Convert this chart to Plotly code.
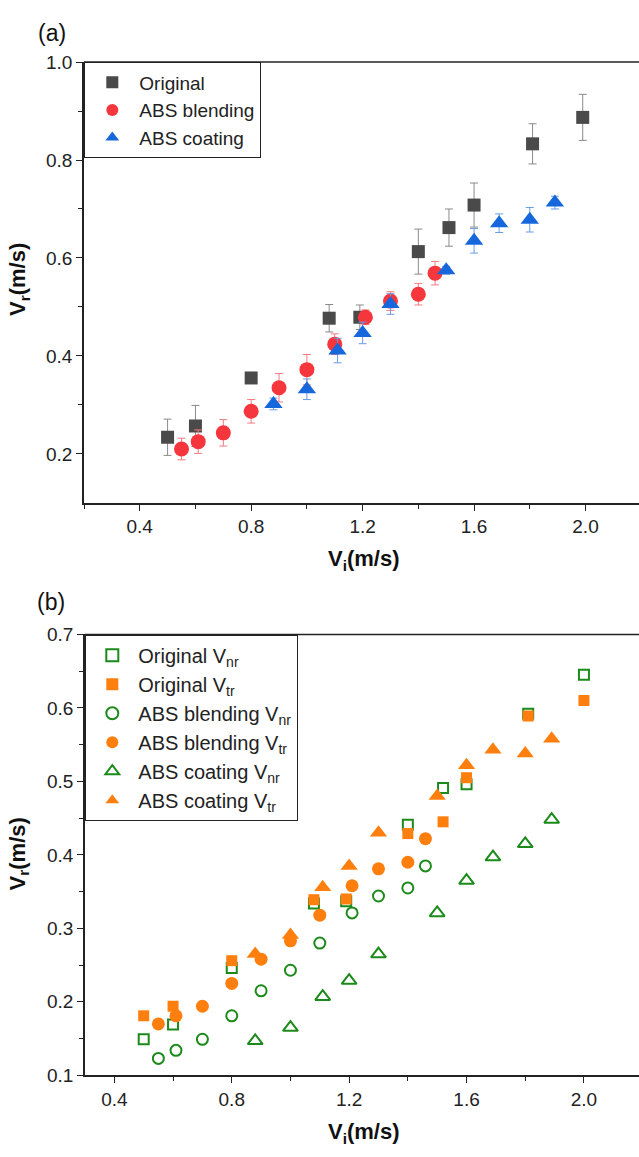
import plotly.graph_objects as go

# ---------------- Panel (a) data ----------------
orig_x = [0.50, 0.60, 0.80, 1.08, 1.19, 1.40, 1.51, 1.60, 1.81, 1.99]
orig_y = [0.234, 0.257, 0.355, 0.477, 0.479, 0.613, 0.662, 0.708, 0.833, 0.887]
orig_err = [0.037, 0.042, 0.007, 0.028, 0.025, 0.046, 0.038, 0.045, 0.041, 0.047]

blend_x = [0.55, 0.61, 0.70, 0.80, 0.90, 1.00, 1.10, 1.21, 1.30, 1.40, 1.46]
blend_y = [0.210, 0.225, 0.243, 0.287, 0.335, 0.372, 0.424, 0.479, 0.512, 0.526, 0.569]
blend_err = [0.022, 0.024, 0.027, 0.024, 0.029, 0.031, 0.021, 0.015, 0.019, 0.022, 0.024]

coat_x = [0.88, 1.00, 1.11, 1.20, 1.30, 1.50, 1.60, 1.69, 1.80, 1.89]
coat_y = [0.302, 0.332, 0.411, 0.447, 0.506, 0.575, 0.635, 0.671, 0.678, 0.713]
coat_err = [0.012, 0.021, 0.025, 0.022, 0.021, 0.008, 0.025, 0.019, 0.025, 0.013]

# ---------------- Panel (b) data ----------------
b_orig_x = [0.50, 0.60, 0.80, 1.08, 1.19, 1.40, 1.52, 1.60, 1.81, 2.00]
b_orig_nr = [0.149, 0.169, 0.246, 0.334, 0.337, 0.441, 0.491, 0.496, 0.592, 0.645]
b_orig_tr = [0.181, 0.194, 0.256, 0.339, 0.340, 0.429, 0.445, 0.505, 0.589, 0.610]

b_blend_x = [0.55, 0.61, 0.70, 0.80, 0.90, 1.00, 1.10, 1.21, 1.30, 1.40, 1.46]
b_blend_nr = [0.123, 0.134, 0.149, 0.181, 0.215, 0.243, 0.280, 0.321, 0.344, 0.355, 0.385]
b_blend_tr = [0.170, 0.181, 0.194, 0.225, 0.258, 0.283, 0.318, 0.358, 0.381, 0.390, 0.422]

b_coat_x = [0.88, 1.00, 1.11, 1.20, 1.30, 1.50, 1.60, 1.69, 1.80, 1.89]
b_coat_nr = [0.147, 0.165, 0.207, 0.229, 0.265, 0.321, 0.365, 0.397, 0.415, 0.448]
b_coat_tr = [0.265, 0.291, 0.356, 0.385, 0.430, 0.480, 0.522, 0.543, 0.538, 0.558]

W, H = 639, 1157
FONT = "Liberation Sans, Arial, sans-serif"
GRAY, GRAY_E = "#4a4a4a", "#8a8a8a"
RED, RED_E = "#f5363c", "#f77a7e"
BLUE, BLUE_E = "#1767dc", "#6a9ce8"
GREEN, ORANGE = "#1b8a1b", "#ff7f0e"

fig = go.Figure()

def err(arr, col):
    return dict(type="data", array=arr, visible=True, color=col, thickness=1, width=4)

fig.add_trace(go.Scatter(x=orig_x, y=orig_y, mode="markers", name="Original",
                         marker=dict(symbol="square", size=13, color=GRAY),
                         error_y=err(orig_err, GRAY_E), xaxis="x", yaxis="y", legend="legend"))
fig.add_trace(go.Scatter(x=blend_x, y=blend_y, mode="markers", name="ABS blending",
                         marker=dict(symbol="circle", size=15, color=RED),
                         error_y=err(blend_err, RED_E), xaxis="x", yaxis="y", legend="legend"))
fig.add_trace(go.Scatter(x=coat_x, y=coat_y, mode="markers", name="ABS coating",
                         marker=dict(symbol="triangle-up", size=16, color=BLUE),
                         error_y=err(coat_err, BLUE_E), xaxis="x", yaxis="y", legend="legend"))

def open_m(sym, size):
    return dict(symbol=sym + "-open", size=size, color=GREEN, line=dict(width=2, color=GREEN))

def fill_m(sym, size):
    return dict(symbol=sym, size=size, color=ORANGE)

bt = [
    (b_orig_x, b_orig_nr, "Original V<sub>nr</sub>", open_m("square", 10)),
    (b_orig_x, b_orig_tr, "Original V<sub>tr</sub>", fill_m("square", 11)),
    (b_blend_x, b_blend_nr, "ABS blending V<sub>nr</sub>", open_m("circle", 11)),
    (b_blend_x, b_blend_tr, "ABS blending V<sub>tr</sub>", fill_m("circle", 13)),
    (b_coat_x, b_coat_nr, "ABS coating V<sub>nr</sub>", open_m("triangle-up", 13)),
    (b_coat_x, b_coat_tr, "ABS coating V<sub>tr</sub>", fill_m("triangle-up", 15)),
]
for xs, ys, nm, mk in bt:
    fig.add_trace(go.Scatter(x=xs, y=ys, mode="markers", name=nm, marker=mk,
                             xaxis="x2", yaxis="y2", legend="legend2"))

tickfont = dict(family=FONT, size=19, color="#222")
axcommon = dict(showline=True, linecolor="#222", linewidth=1.6, ticks="outside",
                ticklen=6, tickwidth=1.3, tickcolor="#222", showgrid=False, zeroline=False,
                tickfont=tickfont)

x0 = 84 / W
fig.update_layout(
    width=W, height=H, margin=dict(l=0, r=0, t=0, b=0),
    paper_bgcolor="white", plot_bgcolor="white",
    font=dict(family=FONT, size=19, color="#222"),
    xaxis=dict(domain=[x0, 1], range=[0.2, 2.192], tickvals=[0.4, 0.8, 1.2, 1.6, 2.0],
               ticktext=["0.4", "0.8", "1.2", "1.6", "2.0"], anchor="y",
               minor=dict(tickvals=[0.2, 0.6, 1.0, 1.4, 1.8], ticks="outside", ticklen=4,
                          tickcolor="#222", tickwidth=1.3), **axcommon),
    yaxis=dict(domain=[1 - 502 / H, 1 - 53 / H], range=[0.1, 1.0],
               tickvals=[0.2, 0.4, 0.6, 0.8, 1.0], ticktext=["0.2", "0.4", "0.6", "0.8", "1.0"],
               anchor="x",
               minor=dict(tickvals=[0.3, 0.5, 0.7, 0.9], ticks="outside", ticklen=4,
                          tickcolor="#222", tickwidth=1.3), **axcommon),
    xaxis2=dict(domain=[85 / W, 1], range=[0.3, 2.1876], tickvals=[0.4, 0.8, 1.2, 1.6, 2.0],
                ticktext=["0.4", "0.8", "1.2", "1.6", "2.0"], anchor="y2",
                minor=dict(tickvals=[0.6, 1.0, 1.4, 1.8], ticks="outside", ticklen=4,
                           tickcolor="#222", tickwidth=1.3), **axcommon),
    yaxis2=dict(domain=[1 - 1085 / H, 1 - 636 / H], range=[0.1, 0.7],
                tickvals=[0.1, 0.2, 0.3, 0.4, 0.5, 0.6, 0.7],
                ticktext=["0.1", "0.2", "0.3", "0.4", "0.5", "0.6", "0.7"], anchor="x2",
                minor=dict(tickvals=[0.15, 0.25, 0.35, 0.45, 0.55, 0.65], ticks="outside",
                           ticklen=4, tickcolor="#222", tickwidth=1.3), **axcommon),
    legend=dict(x=x0, y=1 - 53 / H, xanchor="left", yanchor="top", xref="paper", yref="paper",
                bordercolor="#222", borderwidth=1.3, bgcolor="white",
                font=dict(family=FONT, size=19, color="#222"), itemwidth=44,
                itemsizing="constant", tracegroupgap=0),
    legend2=dict(x=85 / W, y=1 - 636 / H, xanchor="left", yanchor="top", xref="paper", yref="paper",
                 bordercolor="#222", borderwidth=1.3, bgcolor="white",
                 font=dict(family=FONT, size=20, color="#222"), itemwidth=42,
                 itemsizing="constant", tracegroupgap=0),
    showlegend=True,
)

# top frame lines
for xr, yr in (("x domain", "y domain"), ("x2 domain", "y2 domain")):
    fig.add_shape(type="line", xref=xr, yref=yr, x0=0, x1=1, y0=1, y1=1,
                  line=dict(color="#222", width=1.6), layer="above")

def ann(text, px, py, size, angle=0, bold=False):
    fig.add_annotation(text=(f"<b>{text}</b>" if bold else text), x=px / W, y=1 - py / H,
                       xref="paper", yref="paper", showarrow=False, textangle=angle,
                       font=dict(family=FONT, size=size, color="#111"),
                       xanchor="center", yanchor="middle")

ann("(a)", 52, 23, 23)
ann("(b)", 51, 603, 23)
ann("V<sub>r</sub>(m/s)", 19, 275, 22, angle=-90, bold=True)
ann("V<sub>r</sub>(m/s)", 19, 860, 22, angle=-90, bold=True)
ann("V<sub>i</sub>(m/s)", 364, 560, 22, bold=True)
ann("V<sub>i</sub>(m/s)", 364, 1144, 22, bold=True)

fig.write_html("out.html")
